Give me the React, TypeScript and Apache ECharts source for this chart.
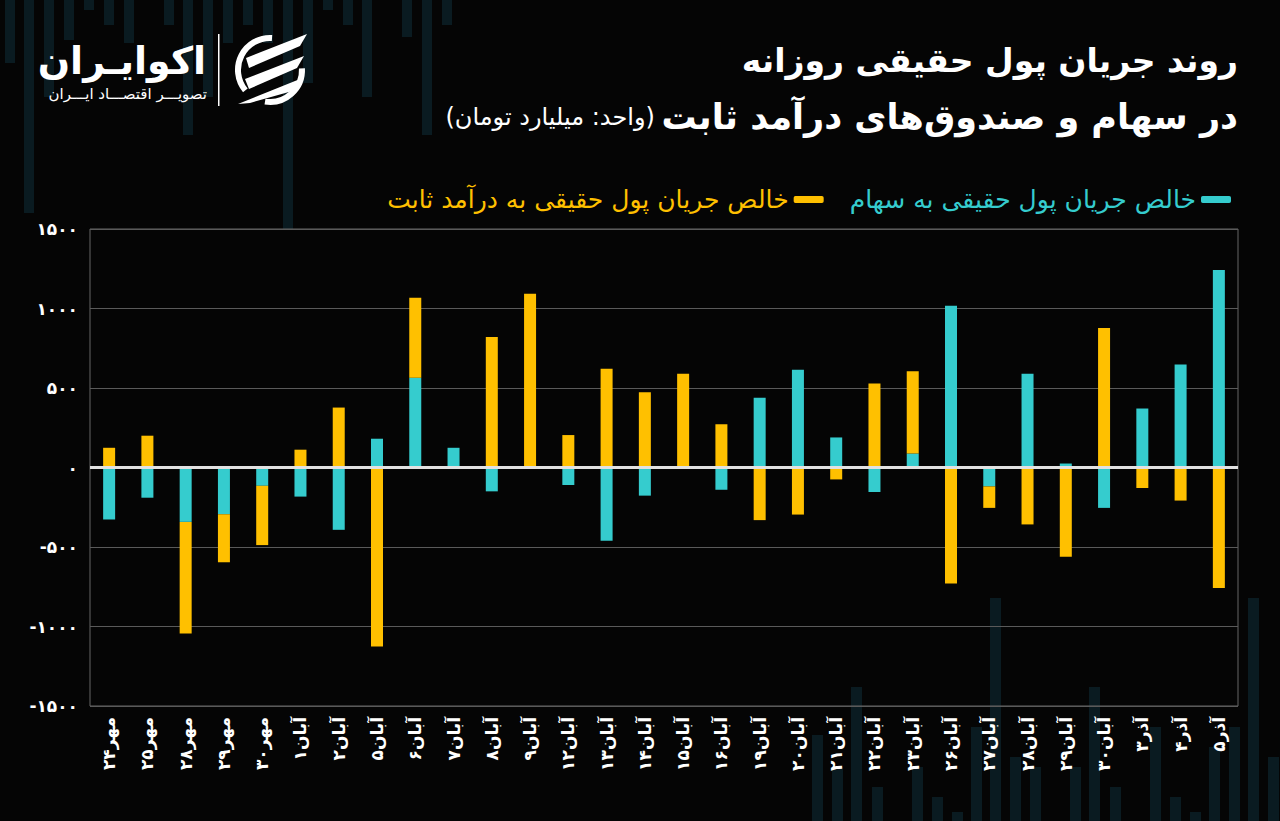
import React, { useEffect, useRef } from 'react';
import * as echarts from 'echarts';

// ---------- data ----------
const categories = [
  'مهر۲۴', 'مهر۲۵', 'مهر۲۸', 'مهر۲۹', 'مهر۳۰',
  'آبان۱', 'آبان۲', 'آبان۵', 'آبان۶', 'آبان۷', 'آبان۸', 'آبان۹',
  'آبان۱۲', 'آبان۱۳', 'آبان۱۴', 'آبان۱۵', 'آبان۱۶', 'آبان۱۹', 'آبان۲۰',
  'آبان۲۱', 'آبان۲۲', 'آبان۲۳', 'آبان۲۶', 'آبان۲۷', 'آبان۲۸', 'آبان۲۹',
  'آبان۳۰', 'آذر۳', 'آذر۴', 'آذر۵',
];
const stockFlow = [
  -327, -190, -342, -294, -115,
  -183, -392, 181, 564, 124, -150, 0,
  -110, -460, -177, 0, -140, 438, 615,
  189, -154, 88, 1018, -119, 589, 25,
  -254, 371, 648, 1242,
];
const fixedIncomeFlow = [
  124, 200, -702, -302, -373,
  112, 377, -1125, 503, 0, 821, 1093,
  204, 621, 474, 589, 272, -331, -296,
  -75, 528, 518, -729, -135, -358, -562,
  878, -129, -208, -758,
];
const yMin = -1500;
const yMax = 1500;
const yStep = 500;

const stockName = 'خالص جریان پول حقیقی به سهام';
const fixedName = 'خالص جریان پول حقیقی به درآمد ثابت';
const titleLine1 = 'روند جریان پول حقیقی روزانه';
const titleLine2 = 'در سهام و صندوق‌های درآمد ثابت';
const unitText = '(واحد: میلیارد تومان)';
const brandName = 'اکوایـران';
const brandSub = 'تصویـــر اقتصـــاد ایـــران';

// decorative background stripes: [x, length]
const topStripes = [
  [5, 63], [24, 213], [44, 97], [64, 40], [84, 10], [104, 25], [124, 43],
  [164, 25], [183, 135], [203, 97], [223, 43], [243, 25], [263, 43],
  [283, 230], [303, 83], [323, 10], [343, 25], [362, 97], [402, 37],
  [422, 135], [442, 25],
];
const bottomStripes = [
  [812, 86], [832, 54], [851, 134], [872, 34], [912, 54], [932, 24],
  [952, 9], [971, 94], [990, 223], [1010, 64], [1030, 54], [1070, 54],
  [1089, 134], [1110, 34], [1150, 94], [1170, 24], [1190, 9], [1209, 74],
  [1229, 94], [1248, 223], [1268, 64],
];

const FONT = "'DejaVu Sans', 'Noto Sans', sans-serif";
const TEAL = '#35CCCE';
const GOLD = '#FFC000';

const toFa = (v: number | string) =>
  String(v).replace(/\d/g, (d) => '۰۱۲۳۴۵۶۷۸۹'[Number(d)]);

export default function App() {
  const ref = useRef<HTMLDivElement>(null);

  useEffect(() => {
    document.body.style.margin = '0';
    document.body.style.background = '#050505';
    if (!ref.current) return;
    const chart = echarts.init(ref.current, undefined, { renderer: 'svg' });

    const decor: any[] = [];
    topStripes.forEach(([x, h]) =>
      decor.push({
        type: 'rect', z: -10, silent: true,
        shape: { x, y: 0, width: 10, height: h },
        style: { fill: '#0a1b21' },
      })
    );
    bottomStripes.forEach(([x, h]) =>
      decor.push({
        type: 'rect', z: -10, silent: true,
        shape: { x, y: 821 - h, width: 11, height: h },
        style: { fill: '#0a1b21' },
      })
    );

    const logo: any[] = [
      { type: 'arc', z: 5, shape: { cx: 270, cy: 70, r: 32, startAngle: Math.PI * 0.78, endAngle: Math.PI * 1.52, clockwise: true },
        style: { stroke: '#fff', lineWidth: 6, fill: 'none' } },
      { type: 'arc', z: 5, shape: { cx: 270, cy: 70, r: 32, startAngle: -0.05, endAngle: Math.PI * 0.55, clockwise: true },
        style: { stroke: '#fff', lineWidth: 6, fill: 'none' } },
      { type: 'polygon', z: 5, shape: { points: [[246, 58], [307, 34], [300, 46], [249, 68]] }, style: { fill: '#fff' } },
      { type: 'polygon', z: 5, shape: { points: [[245, 79], [304, 56], [297, 68], [249, 89]] }, style: { fill: '#fff' } },
      { type: 'polygon', z: 5, shape: { points: [[238, 104], [300, 79], [296, 90], [250, 103]] }, style: { fill: '#fff' } },
      { type: 'rect', z: 5, shape: { x: 218, y: 34, width: 1.5, height: 72 }, style: { fill: '#fff' } },
      { type: 'text', z: 5, x: 206, y: 61, style: { text: brandName, fill: '#fff', font: `bold 38px ${FONT}`, textAlign: 'right', textVerticalAlign: 'middle' } },
      { type: 'text', z: 5, x: 207, y: 94, style: { text: brandSub, fill: '#fff', font: `15px ${FONT}`, textAlign: 'right', textVerticalAlign: 'middle' } },
    ];

    const titles: any[] = [
      { type: 'text', z: 5, x: 1238, y: 60, style: { text: titleLine1, fill: '#fff', font: `bold 33px ${FONT}`, textAlign: 'right', textVerticalAlign: 'middle' } },
      { type: 'text', z: 5, x: 1238, y: 117,
        style: {
          text: `{u|${unitText}}  {b|${titleLine2}}`,
          textAlign: 'right', textVerticalAlign: 'middle',
          rich: {
            u: { fill: '#fff', fontSize: 24, fontFamily: FONT, verticalAlign: 'middle' },
            b: { fill: '#fff', fontSize: 35, fontWeight: 'bold', fontFamily: FONT, verticalAlign: 'middle' },
          },
        } },
    ];

    chart.setOption({
      animation: false,
      backgroundColor: '#050505',
      textStyle: { fontFamily: FONT },
      graphic: [...decor, ...logo, ...titles],
      legend: {
        right: 44, top: 182, align: 'right', icon: 'roundRect',
        itemWidth: 30, itemHeight: 7, itemGap: 26,
        textStyle: { fontSize: 25, fontFamily: FONT },
        data: [
          { name: fixedName, textStyle: { color: GOLD } },
          { name: stockName, textStyle: { color: TEAL } },
        ],
      },
      grid: {
        left: 90, right: 42, top: 229, bottom: 115,
        show: true, borderColor: '#666', borderWidth: 1, backgroundColor: 'transparent',
      },
      xAxis: {
        type: 'category',
        data: categories,
        axisLine: { show: false },
        axisTick: { show: false },
        axisLabel: {
          interval: 0, rotate: 90, margin: 11, color: '#fff', fontSize: 17, fontWeight: 'bold', fontFamily: FONT,
        },
      },
      yAxis: {
        type: 'value', min: yMin, max: yMax, interval: yStep,
        axisLine: { show: false },
        axisTick: { show: false },
        splitLine: { lineStyle: { color: '#5a5a5a', width: 1 } },
        axisLabel: {
          color: '#fff', fontSize: 17, fontWeight: 'bold', fontFamily: FONT, margin: 12,
          formatter: (v: number) => toFa(v),
        },
      },
      series: [
        {
          name: stockName, type: 'bar', stack: 'flow', barWidth: 12,
          itemStyle: { color: TEAL }, data: stockFlow,
          markLine: {
            silent: true, symbol: 'none', label: { show: false },
            lineStyle: { color: '#e2e2e2', width: 3, type: 'solid' },
            data: [{ yAxis: 0 }],
          },
        },
        {
          name: fixedName, type: 'bar', stack: 'flow', barWidth: 12,
          itemStyle: { color: GOLD }, data: fixedIncomeFlow,
        },
      ],
    });

    return () => chart.dispose();
  }, []);

  return <div ref={ref} style={{ position: 'fixed', left: 0, top: 0, width: 1280, height: 821 }} />;
}
